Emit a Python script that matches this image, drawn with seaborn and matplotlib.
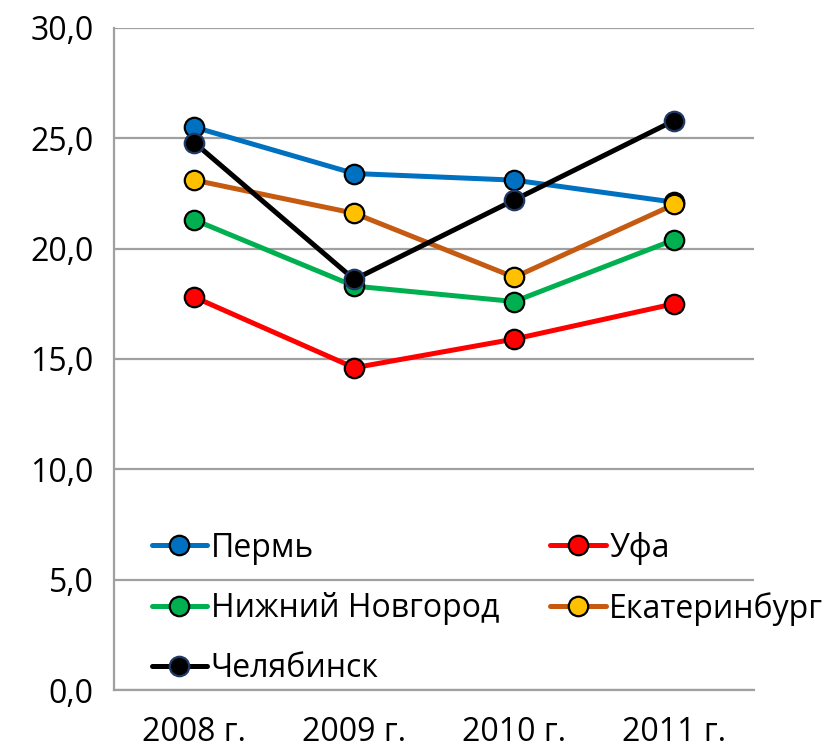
import pandas as pd
import numpy as np
import matplotlib.pyplot as plt
import seaborn as sns

# Данные
years = ['2008 г.', '2009 г.', '2010 г.', '2011 г.']
perm = [25.5, 23.4, 23.1, 22.1]
ufa = [17.8, 14.6, 15.9, 17.5]
nn = [21.3, 18.3, 17.6, 20.4]
ekb = [23.1, 21.6, 18.7, 22.0]
chel = [24.8, 18.6, 22.2, 25.8]

series = [
    ('Пермь', perm, '#0070C0', '#0070C0', 'black'),
    ('Уфа', ufa, '#FF0000', '#FF0000', 'black'),
    ('Нижний Новгород', nn, '#00B050', '#00B050', 'black'),
    ('Екатеринбург', ekb, '#C55A11', '#FFC000', 'black'),
    ('Челябинск', chel, '#000000', '#000000', '#1F3864'),
]

sns.set_style('white')
plt.rcParams.update({
    'font.family': ['Open Sans', 'DejaVu Sans'],
    'font.size': 23,
    'text.color': 'black',
    'xtick.labelcolor': 'black',
    'ytick.labelcolor': 'black',
})

fig = plt.figure(figsize=(8.28, 7.52), dpi=100)
ax = fig.add_axes([0.138, 0.0824, 0.773, 0.8806])

x = np.arange(len(years))
handles = {}
for name, vals, lc, fc, ec in series:
    df = pd.DataFrame({'x': x, 'y': vals})
    sns.lineplot(data=df, x='x', y='y', ax=ax, color=lc, linewidth=3.6,
                 marker='o', markersize=14, markerfacecolor=fc,
                 markeredgecolor=ec, markeredgewidth=1.6, label=name,
                 legend=False)
    handles[name] = ax.lines[-1]

ax.set_xlim(-0.5, 3.5)
ax.set_ylim(0, 30)
ax.set_yticks(np.arange(0, 31, 5))
ax.set_yticklabels([f'{v:.1f}'.replace('.', ',') for v in np.arange(0, 31, 5)])
ax.set_xticks(x)
ax.set_xticklabels(years)
ax.set_xticks(np.arange(-0.5, 3.6, 1), minor=True)
ax.tick_params(axis='both', which='major', labelsize=23)
ax.tick_params(axis='x', which='major', length=0, pad=19)
ax.tick_params(axis='x', which='minor', length=10, width=1.5, color='#A0A0A0', direction='out')
ax.tick_params(axis='y', which='major', length=7, width=1.5, color='#A0A0A0', direction='out', pad=8)
ax.set_xlabel('')
ax.set_ylabel('')

ax.yaxis.grid(True, color='#A0A0A0', linewidth=1.6)
ax.set_axisbelow(True)
for s in ['top', 'right']:
    ax.spines[s].set_visible(False)
for s in ['left', 'bottom']:
    ax.spines[s].set_color('#A0A0A0')
    ax.spines[s].set_linewidth(1.6)

order = ['Пермь', 'Нижний Новгород', 'Челябинск', 'Уфа', 'Екатеринбург']
leg = ax.legend([handles[n] for n in order], order, ncol=2, frameon=False,
                loc='upper left', bbox_to_anchor=(0.183, 0.293),
                bbox_transform=fig.transFigure, borderaxespad=0, borderpad=0,
                handlelength=1.75, handletextpad=0.1, columnspacing=1.6,
                labelspacing=0.85, numpoints=1, fontsize=23)

plt.savefig('out.png', dpi=100)
plt.close()
